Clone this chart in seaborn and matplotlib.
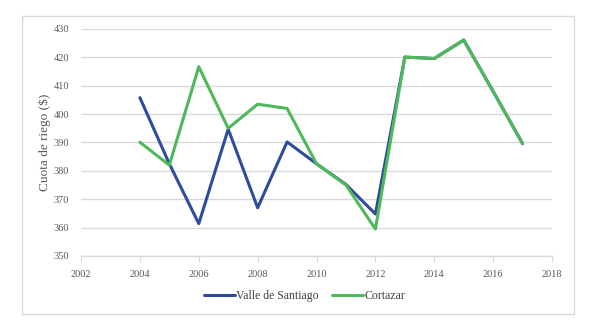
import numpy as np
import pandas as pd
import matplotlib
matplotlib.use("Agg")
import matplotlib.pyplot as plt
import seaborn as sns
from matplotlib.patches import Rectangle

years = [2004, 2005, 2006, 2007, 2008, 2009, 2010, 2011, 2012, 2013, 2014, 2015, 2016, 2017]
valle = [405.8, 382.5, 361.4, 394.7, 367.0, 390.2, 382.5, 375.2, 364.8, 420.1, 419.6, 426.1, 408.0, 389.6]
cortazar = [390.1, 382.0, 416.7, 395.0, 403.5, 402.0, 382.5, 375.0, 359.5, 420.1, 419.6, 426.1, 408.0, 389.6]
series_names = ["Valle de Santiago", "Cortazar"]
colors = ["#2F4B9B", "#4DB95B"]
yticks = [350, 360, 370, 380, 390, 400, 410, 420, 430]
xticks = [2002, 2004, 2006, 2008, 2010, 2012, 2014, 2016, 2018]

df = pd.DataFrame({
    "year": years * 2,
    "value": valle + cortazar,
    "serie": [series_names[0]] * len(years) + [series_names[1]] * len(years),
})

sns.set_style("white")
plt.rcParams["font.family"] = ["Liberation Serif", "DejaVu Serif"]

fig = plt.figure(figsize=(5.97, 3.24), dpi=100)
fig.patches.append(Rectangle((0.037, 0.031), 0.925, 0.919, transform=fig.transFigure,
                             fill=False, edgecolor="#d9d9d9", linewidth=1.0))
ax = fig.add_axes([0.1357, 0.2099, 0.789, 0.7006])

sns.lineplot(data=df, x="year", y="value", hue="serie", hue_order=series_names,
             palette=colors, linewidth=2.2, ax=ax, legend=True)

ax.set_xlim(2002, 2018)
ax.set_ylim(350, 430)
ax.set_xticks(xticks)
ax.set_yticks(yticks)
ax.set_xticklabels([str(t) for t in xticks])
ax.set_yticklabels([str(t) for t in yticks])
ax.yaxis.grid(True, color="#d9d9d9", linewidth=1.0)
ax.set_axisbelow(True)
for s in ["left", "right", "top"]:
    ax.spines[s].set_visible(False)
ax.spines["bottom"].set_color("#d9d9d9")
ax.spines["bottom"].set_linewidth(1.0)
ax.tick_params(axis="x", which="major", bottom=True, length=4, color="#d9d9d9",
               labelsize=7.5, labelcolor="#595959", pad=6)
ax.tick_params(axis="y", left=False, labelsize=7.5, labelcolor="#595959", pad=5)
ax.set_xlabel("")
ax.set_ylabel("Cuota de riego ($)", fontsize=9.5, color="#595959")
ax.yaxis.set_label_coords(-0.064, 0.5)

ax.get_legend().remove()
handles, labels = ax.get_legend_handles_labels()
fig.legend(handles, labels, loc="center", bbox_to_anchor=(0.51, 0.087), ncol=2,
           frameon=False, fontsize=8.5, handlelength=2.6, handletextpad=0.1,
           columnspacing=1.2, labelcolor="#404040")

fig.savefig("out.png", dpi=100)
